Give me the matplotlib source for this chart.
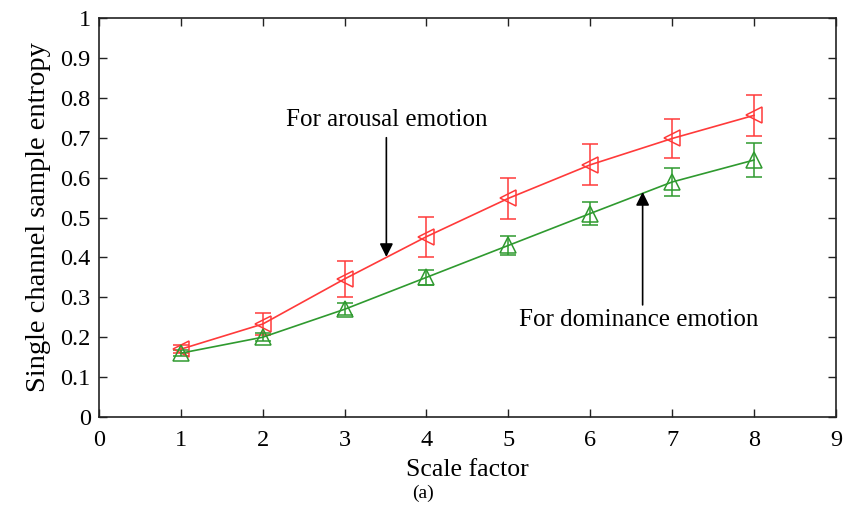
import matplotlib
matplotlib.use("Agg")
import matplotlib.pyplot as plt

scale = [1, 2, 3, 4, 5, 6, 7, 8]
arousal_mean = [0.170, 0.233, 0.346, 0.452, 0.548, 0.632, 0.698, 0.756]
arousal_err = [0.010, 0.027, 0.044, 0.050, 0.052, 0.051, 0.050, 0.051]
dominance_mean = [0.160, 0.200, 0.270, 0.350, 0.430, 0.510, 0.589, 0.644]
dominance_err = [0.008, 0.010, 0.015, 0.018, 0.023, 0.030, 0.036, 0.043]

x_ticks = list(range(0, 10))
y_ticks = [0, 0.1, 0.2, 0.3, 0.4, 0.5, 0.6, 0.7, 0.8, 0.9, 1]
y_tick_labels = ["0", "0.1", "0.2", "0.3", "0.4", "0.5", "0.6", "0.7", "0.8", "0.9", "1"]

plt.rcParams['font.family'] = ['Liberation Serif', 'DejaVu Serif']

fig = plt.figure(figsize=(8.46, 5.07), dpi=100)
ax = fig.add_axes([0.117, 0.1775, 0.871, 0.787])

red = '#ff3a3a'
green = '#2f9a2f'

ax.errorbar(scale, arousal_mean, yerr=arousal_err, color=red, lw=1.2,
            marker='<', markersize=12, markerfacecolor='none', markeredgecolor=red,
            markeredgewidth=1.1, capsize=5.5, elinewidth=1.1, capthick=1.1)
ax.errorbar(scale, dominance_mean, yerr=dominance_err, color=green, lw=1.2,
            marker='^', markersize=12, markerfacecolor='none', markeredgecolor=green,
            markeredgewidth=1.1, capsize=5.5, elinewidth=1.1, capthick=1.1)

ax.set_xlim(0, 9)
ax.set_ylim(0, 1)
ax.set_xticks(x_ticks)
ax.set_yticks(y_ticks)
ax.set_yticklabels(y_tick_labels)
ax.tick_params(direction='in', length=6, width=1, top=True, right=True,
               labelsize=17.5, colors='#222222', labelcolor='black')
ax.tick_params(axis='x', pad=9)
ax.tick_params(axis='y', pad=6)
for s in ax.spines.values():
    s.set_linewidth(1.2)
    s.set_color('#222222')

ax.set_xlabel('Scale factor', fontsize=18.5, labelpad=6)
ax.set_ylabel('Single channel sample entropy', fontsize=20.5, labelpad=7)

ax.annotate('', xy=(3.51, 0.401), xytext=(3.51, 0.70),
            arrowprops=dict(arrowstyle='-|>', color='black', lw=1.2,
                            mutation_scale=20, shrinkA=0, shrinkB=0))
ax.text(3.52, 0.745, 'For arousal emotion', fontsize=18, ha='center', va='center')

ax.annotate('', xy=(6.64, 0.564), xytext=(6.64, 0.281),
            arrowprops=dict(arrowstyle='-|>', color='black', lw=1.2,
                            mutation_scale=20, shrinkA=0, shrinkB=0))
ax.text(6.59, 0.243, 'For dominance emotion', fontsize=18, ha='center', va='center')

fig.text(0.5, 0.026, '(a)', fontsize=14, ha='center', va='center')

fig.savefig('out.png', dpi=100)
